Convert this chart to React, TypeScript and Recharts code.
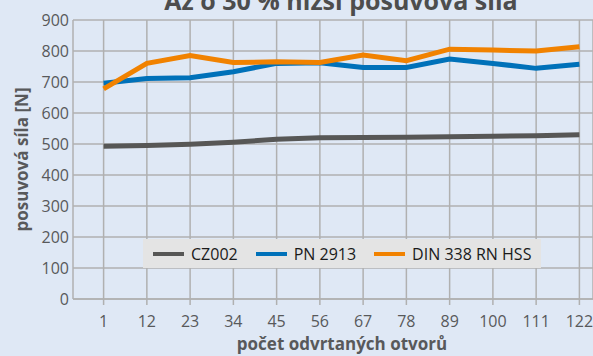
import React from "react";
import { LineChart, Line, XAxis, YAxis, CartesianGrid } from "recharts";

// number of drilled holes
const holes = ["1", "12", "23", "34", "45", "56", "67", "78", "89", "100", "111", "122"];

// feed force [N] per drill
const cz002 = [493, 495, 499, 506, 515, 520, 521, 522, 523, 525, 527, 530];
const pn2913 = [696, 711, 714, 733, 760, 762, 747, 747, 774, 760, 744, 757];
const din338 = [678, 760, 785, 763, 765, 763, 787, 769, 806, 803, 800, 814];

const yTicks = [0, 100, 200, 300, 400, 500, 600, 700, 800, 900];

const series = [
  { key: "cz002", name: "CZ002", color: "#575756" },
  { key: "pn2913", name: "PN 2913", color: "#0071b9" },
  { key: "din338", name: "DIN 338 RN HSS", color: "#f18200" },
];

const data = holes.map((h, i) => ({
  holes: h,
  cz002: cz002[i],
  pn2913: pn2913[i],
  din338: din338[i],
}));

const FONT = "'Open Sans', sans-serif";
const GRID = "#b0b0b0";
const TICK = "#58595b";

const YTitle = (props: any) => {
  const vb = props.viewBox || {};
  const cx = vb.x + 21;
  const cy = vb.y + vb.height / 2;
  return (
    <text
      x={cx}
      y={cy}
      transform={`rotate(-90 ${cx} ${cy})`}
      textAnchor="middle"
      dominantBaseline="central"
      fontFamily={FONT}
      fontWeight={700}
      fontSize={17}
      fill={TICK}
    >
      posuvová síla [N]
    </text>
  );
};

const XTitle = (props: any) => {
  const vb = props.viewBox || {};
  return (
    <text
      x={342}
      y={vb.y + vb.height - 6}
      textAnchor="middle"
      fontFamily={FONT}
      fontWeight={700}
      fontSize={17}
      fill={TICK}
    >
      počet odvrtaných otvorů
    </text>
  );
};

export default function App() {
  return (
    <div
      style={{
        position: "absolute",
        left: 0,
        top: 0,
        width: 593,
        height: 356,
        background: "#dfe8f5",
        overflow: "hidden",
        fontFamily: FONT,
      }}
    >
      <div
        style={{
          position: "absolute",
          left: 91,
          top: -12,
          width: 500,
          textAlign: "center",
          fontSize: 25,
          lineHeight: "25px",
          fontWeight: 700,
          color: "#4d4d4d",
          whiteSpace: "nowrap",
        }}
      >
        Až o 30 % nižší posuvová síla
      </div>
      <LineChart
        width={593}
        height={356}
        data={data}
        margin={{ top: 20, right: 0, bottom: 0, left: 0 }}
      >
        <CartesianGrid stroke={GRID} strokeWidth={1.5} />
        <XAxis
          dataKey="holes"
          height={57}
          padding={{ left: 30.6, right: 13.6 }}
          tickSize={6}
          tickMargin={11}
          axisLine={{ stroke: GRID, strokeWidth: 1.5 }}
          tickLine={{ stroke: GRID, strokeWidth: 1.5 }}
          tick={{ fill: TICK, fontSize: 16, fontFamily: FONT }}
          interval={0}
          label={<XTitle />}
        />
        <YAxis
          width={73}
          domain={[0, 900]}
          ticks={yTicks}
          axisLine={false}
          tickLine={false}
          tickSize={0}
          tickMargin={4}
          tick={{ fill: TICK, fontSize: 16, fontFamily: FONT }}
          label={<YTitle />}
        />
        {series.map((s) => (
          <Line
            key={s.key}
            dataKey={s.key}
            name={s.name}
            stroke={s.color}
            strokeWidth={5}
            dot={false}
            activeDot={false}
            isAnimationActive={false}
          />
        ))}
      </LineChart>
      <div
        style={{
          position: "absolute",
          left: 143,
          top: 239,
          width: 398,
          height: 29,
          background: "#e4e4e4",
          display: "flex",
          alignItems: "center",
          paddingLeft: 10,
          boxSizing: "border-box",
          gap: 18,
          fontSize: 16,
          color: "#1a1a1a",
        }}
      >
        {series.map((s) => (
          <div key={s.key} style={{ display: "flex", alignItems: "center" }}>
            <span
              style={{
                display: "inline-block",
                width: 31,
                height: 4,
                background: s.color,
                marginRight: 7,
              }}
            />
            <span>{s.name}</span>
          </div>
        ))}
      </div>
    </div>
  );
}
